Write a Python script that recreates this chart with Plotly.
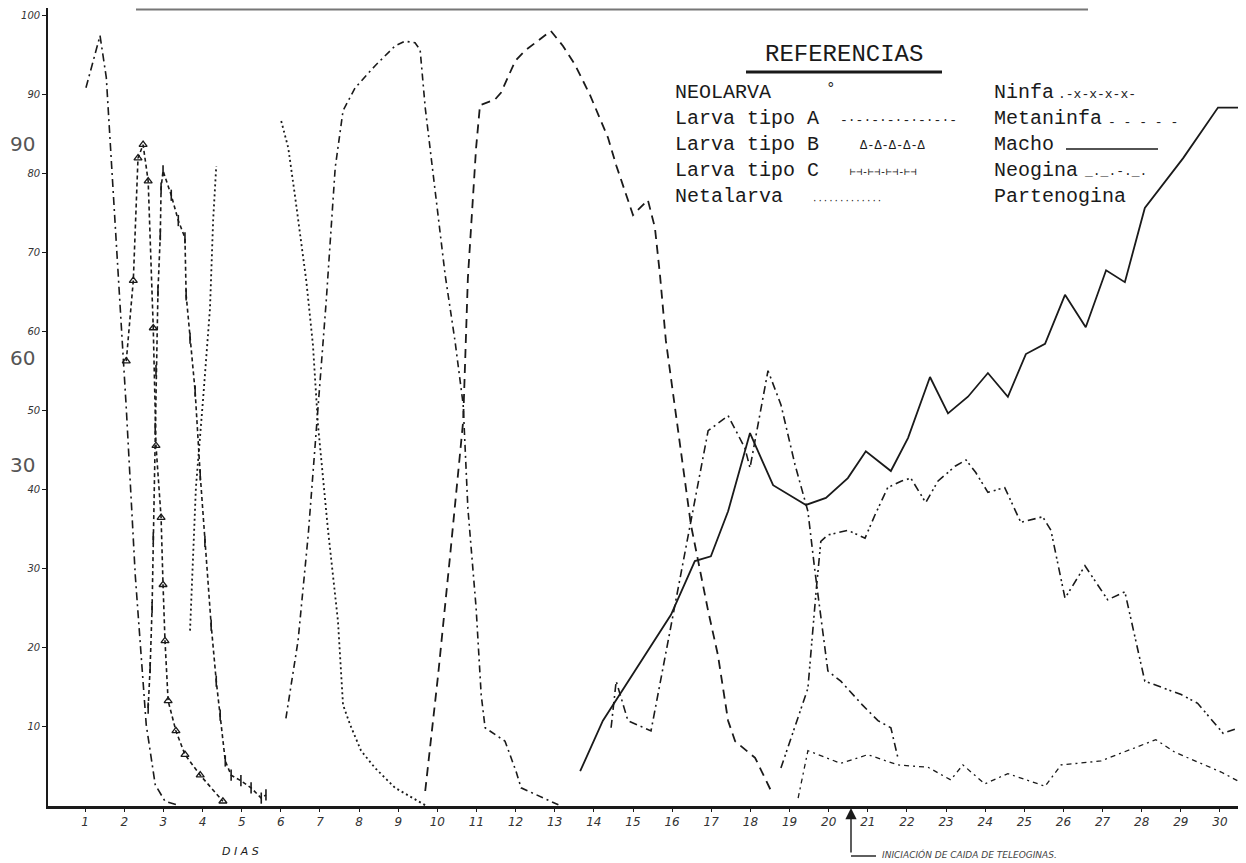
import plotly.graph_objects as go

# ---------------- data (días, %) ----------------
larva_a_dias = [1.02, 1.38, 1.54, 1.79, 2.05, 2.28, 2.40, 2.48, 2.56, 2.79, 3.04, 3.38]
larva_a_pct = [90.9, 97.5, 92.2, 71.5, 50.4, 29.2, 20.9, 16.6, 10.3, 2.7, 0.6, 0.1]

larva_b_dias = [2.05, 2.23, 2.35, 2.48, 2.61, 2.74, 2.81, 2.94, 2.99, 3.04, 3.12, 3.32, 3.55, 3.94, 4.52]
larva_b_pct = [56.3, 66.5, 82.0, 83.7, 79.1, 60.5, 45.6, 36.5, 28.0, 20.9, 13.3, 9.5, 6.5, 3.9, 0.6]

larva_c_dias = [2.61, 2.66, 2.71, 2.74, 2.79, 2.81, 2.86, 2.92, 2.94, 2.99, 3.20, 3.38, 3.55, 3.58,
                3.68, 3.81, 3.94, 4.06, 4.22, 4.35, 4.45, 4.58, 4.73, 4.98, 5.24, 5.50, 5.62]
larva_c_pct = [12.4, 17.5, 25.1, 33.9, 47.8, 55.1, 65.2, 72.3, 78.2, 80.4, 77.3, 74.1, 71.9, 64.7,
               59.2, 52.5, 41.9, 33.5, 22.9, 15.8, 11.5, 5.7, 3.9, 3.2, 2.3, 1.0, 1.4]

metalarva_dias = [3.68, 3.83, 4.01, 4.19, 4.27, 4.35, 5.2, 6.01, 6.19, 6.36, 6.52, 6.65, 6.82, 6.95,
                  7.20, 7.34, 7.46, 7.59, 7.77, 8.05, 8.41, 8.92, 9.43, 9.69]
metalarva_pct = [22.2, 40.3, 51.3, 63.0, 74.1, 81.0, None, 86.7, 83.3, 77.3, 71.5, 66.5, 58.4, 48.2,
                 35.2, 29.2, 23.4, 12.8, 10.3, 7.0, 4.8, 2.3, 0.8, 0.1]

ninfa_dias = [6.13, 6.44, 6.70, 6.95, 7.16, 7.39, 7.59, 7.90, 8.41, 8.92, 9.17, 9.43, 9.56, 9.69,
              9.94, 10.20, 10.45, 10.66, 10.78, 10.99, 11.12, 11.22, 11.73, 12.01, 12.14, 13.16]
ninfa_pct = [11.1, 20.9, 34.3, 50.4, 63.9, 80.8, 88.0, 90.9, 93.7, 96.2, 96.8, 96.6, 95.7, 88.4,
             77.8, 67.2, 58.9, 50.8, 37.7, 25.1, 14.1, 9.9, 8.2, 4.4, 2.3, 0.0]

metaninfa_dias = [9.69, 10.02, 10.32, 10.66, 10.78, 10.99, 11.09, 11.47, 11.63, 11.99, 12.24, 12.90,
                  13.21, 13.52, 13.90, 14.36, 14.57, 15.00, 15.38, 15.56, 15.69, 15.84, 16.48, 16.92,
                  17.17, 17.43, 17.61, 18.12, 18.53]
metaninfa_pct = [1.9, 16.6, 31.4, 48.7, 66.8, 83.3, 88.7, 89.4, 90.3, 94.3, 95.6, 98.1,
                 96.2, 93.8, 90.0, 84.6, 81.1, 74.8, 76.7, 73.2, 67.2, 58.9, 35.6, 24.7,
                 19.1, 10.8, 8.2, 6.1, 1.9]

macho_dias = [13.65, 14.23, 15.97, 16.58, 16.99, 17.43, 17.99, 18.58, 19.42, 19.93, 20.49, 20.95,
              21.59, 22.03, 22.59, 23.05, 23.56, 24.07, 24.58, 25.04, 25.53, 26.04, 26.57, 27.09,
              27.57, 28.08, 29.06, 29.95, 30.51, 30.76]
macho_pct = [4.4, 10.8, 24.2, 31.0, 31.6, 37.3, 47.2, 40.6, 38.1, 39.0, 41.5, 44.9,
             42.4, 46.6, 54.3, 49.7, 51.8, 54.8, 51.8, 57.2, 58.5, 64.7, 60.6, 67.8,
             66.3, 75.7, 82.0, 88.4, 88.4, 87.1]

neogina_dias = [14.44, 14.57, 14.87, 15.46, 16.92, 17.43, 17.86, 17.99, 18.45, 18.78, 19.14, 19.47,
                19.65, 19.80, 19.98, 20.31, 20.86, 21.26, 21.59, 21.77]
neogina_pct = [9.9, 15.8, 10.8, 9.5, 47.5, 49.4, 45.3, 42.8, 55.1, 50.8, 43.2, 37.3,
               29.7, 23.8, 17.1, 15.8, 12.8, 10.8, 9.9, 6.1]

partenogina_dias = [18.78, 19.47, 19.68, 19.80, 19.98, 20.49, 20.93, 21.18, 21.51, 21.85, 22.10,
                    22.48, 22.79, 23.23, 23.51, 23.76, 24.07, 24.50, 24.91, 25.47, 25.68, 26.04,
                    26.55, 27.13, 27.57, 27.90, 28.08, 29.01, 29.43, 30.08, 30.71]
partenogina_pct = [4.8, 14.9, 27.2, 33.5, 34.3, 34.9, 33.9, 36.8, 40.3, 41.1, 41.5,
                   38.4, 41.1, 43.0, 43.8, 42.2, 39.7, 40.3, 35.9, 36.6, 34.9, 26.3,
                   30.4, 26.1, 27.1, 19.9, 15.8, 14.1, 13.0, 9.2, 10.3]

inferior_dias = [19.22, 19.47, 20.31, 21.00, 21.77, 22.54, 23.12, 23.43, 23.99, 24.58, 25.53,
                 25.94, 26.96, 28.36, 28.85, 30.03, 30.71]
inferior_pct = [1.0, 7.0, 5.4, 6.5, 5.2, 4.9, 3.3, 5.2, 2.8, 4.1, 2.5,
                5.2, 5.7, 8.4, 6.8, 4.3, 2.5]

x_ticks = list(range(1, 31))
x_labels = [str(d) for d in x_ticks]
y_ticks = [10, 20, 30, 40, 50, 60, 70, 80, 90, 100]
y_labels = [str(v) for v in y_ticks]

# ---------------- figure ----------------
INK = "#1a1a1a"
fig = go.Figure()


def add(x, y, name, dash, width=1.6, marker=None):
    kw = dict(x=x, y=y, name=name, mode="lines", showlegend=False,
              line=dict(color=INK, width=width, dash=dash), connectgaps=False)
    if marker:
        kw["mode"] = "lines+markers"
        kw["marker"] = marker
    fig.add_trace(go.Scatter(**kw))


add(larva_a_dias, larva_a_pct, "Larva tipo A", "8px,4px,2px,4px")
add(larva_b_dias, larva_b_pct, "Larva tipo B", "4px,3px",
    marker=dict(symbol="triangle-up-open", size=7, color=INK, line=dict(width=1.3, color=INK)))
add(larva_c_dias, larva_c_pct, "Larva tipo C", "4px,3px",
    marker=dict(symbol="line-ns-open", size=8, color=INK, line=dict(width=1.6, color=INK)))
add(metalarva_dias, metalarva_pct, "Netalarva", "2px,3px", width=1.8)
add(ninfa_dias, ninfa_pct, "Ninfa", "7px,4px,2px,4px")
add(metaninfa_dias, metaninfa_pct, "Metaninfa", "9px,6px", width=1.8)
add(macho_dias, macho_pct, "Macho", "solid", width=1.8)
add(neogina_dias, neogina_pct, "Neogina", "8px,4px,2px,4px")
add(partenogina_dias, partenogina_pct, "Partenogina", "8px,4px,2px,3px,2px,4px")
add(inferior_dias, inferior_pct, "(sin referencia)", "5px,4px,2px,4px", width=1.3)

# ---------------- layout helpers (pixel -> paper) ----------------
PL, PW, PB, PH = 40, 1206, 798, 798


def px(xp):
    return (xp - PL) / PW


def py(yp):
    return (PB - yp) / PH


MONO = "Liberation Mono, Courier New, monospace"
ann = []


def text(t, xp, yp, size, anchor="left", family=MONO, color=INK, italic=False):
    f = dict(family=family, size=size, color=color)
    if italic:
        f["style"] = "italic"
    ann.append(dict(text=t, x=px(xp), y=py(yp), xref="paper", yref="paper",
                    xanchor=anchor, yanchor="middle", showarrow=False, font=f))


# legend block "REFERENCIAS"
text("REFERENCIAS", 836, 46, 24, anchor="center")
rows_y = [84, 110, 136, 162, 188]
left_labels = ["NEOLARVA", "Larva tipo A", "Larva tipo B", "Larva tipo C", "Netalarva"]
right_labels = ["Ninfa", "Metaninfa", "Macho", "Neogina", "Partenogina"]
for t, yy in zip(left_labels, rows_y):
    text(t, 665, yy, 20)
for t, yy in zip(right_labels, rows_y):
    text(t, 984, yy, 20)
# legend samples
text("°", 823, rows_y[0] - 3, 16, anchor="center")
text("-·-·-·-·-·-·-·-", 830, rows_y[1] + 3, 13)
text("Δ-Δ-Δ-Δ-Δ", 850, rows_y[2] + 2, 12)
text("⊢⊣-⊢⊣-⊢⊣-⊢⊣", 840, rows_y[3] + 3, 10)
text("·············", 802, rows_y[4] + 5, 9)
text(".-x-x-x-x-", 1048, rows_y[0] + 2, 13)
text("- - - - -", 1098, rows_y[1] + 4, 13)
text("_._.-._.", 1074, rows_y[3] + 1, 13)

# axis annotations
text("D I A S", 232, 843, 11, anchor="center", family="DejaVu Sans", italic=True)
text("INICIACIÓN DE CAIDA DE TELEOGINAS.", 872, 846, 9, family="DejaVu Sans",
     color="#444", italic=True)
# large hand-written scale marks on the left
for t, yy in [("90", 136), ("60", 350), ("30", 457)]:
    text(t, 14, yy, 20, anchor="center", family="DejaVu Sans", color="#555")

# arrow marking start of teleogina drop
ann.append(dict(text="", x=px(843), y=py(800), xref="paper", yref="paper",
                showarrow=True, ax=0, ay=46, arrowhead=2, arrowsize=1.6,
                arrowwidth=1.4, arrowcolor=INK))

shapes = [
    # underline of REFERENCIAS
    dict(type="line", xref="paper", yref="paper", x0=px(738), x1=px(934), y0=py(64), y1=py(64),
         line=dict(color=INK, width=3)),
    # Macho sample line
    dict(type="line", xref="paper", yref="paper", x0=px(1058), x1=px(1150), y0=py(141), y1=py(141),
         line=dict(color=INK, width=1.5)),
    # arrow foot
    dict(type="line", xref="paper", yref="paper", x0=px(843), x1=px(868), y0=py(848), y1=py(848),
         line=dict(color=INK, width=1.4)),
    # top border of the sheet
    dict(type="line", xref="paper", yref="paper", x0=px(128), x1=px(1080), y0=py(1.5), y1=py(1.5),
         line=dict(color="#777", width=2)),
]

fig.update_layout(
    width=1246, height=863,
    margin=dict(l=PL, r=0, t=0, b=863 - PB),
    paper_bgcolor="white", plot_bgcolor="white",
    annotations=ann, shapes=shapes,
    xaxis=dict(range=[0.05, 30.87], tickvals=x_ticks, ticktext=x_labels,
               showgrid=False, zeroline=False, showline=True, linecolor=INK, linewidth=2.5,
               ticks="outside", ticklen=3, tickcolor=INK,
               tickfont=dict(family="DejaVu Sans", size=12, color="#333", style="italic")),
    yaxis=dict(range=[0, 101], tickvals=y_ticks, ticktext=y_labels,
               showgrid=False, zeroline=False, showline=True, linecolor=INK, linewidth=1.6,
               ticks="outside", ticklen=4, tickcolor=INK,
               tickfont=dict(family="DejaVu Sans", size=10, color="#333", style="italic")),
)

fig.write_html("out.html")
